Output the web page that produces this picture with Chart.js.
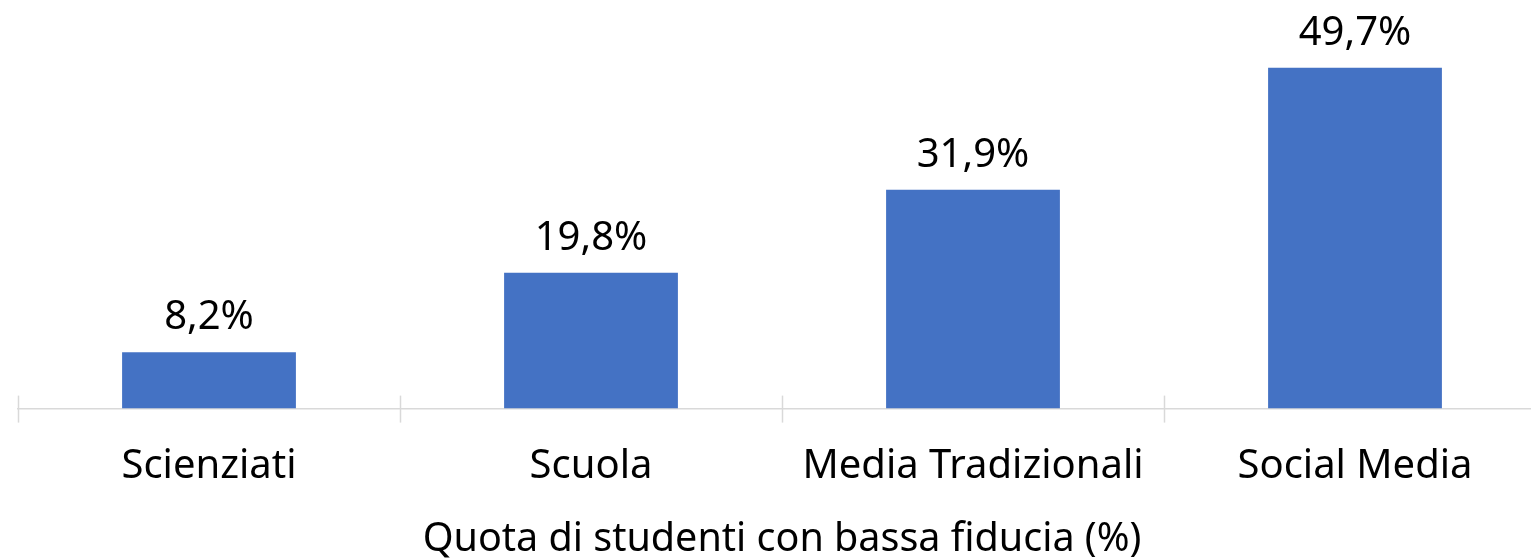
<!DOCTYPE html>
<html>
<head>
<meta charset="utf-8">
<script src="https://cdn.jsdelivr.net/npm/chart.js@4"></script>
<style>
  html, body { margin:0; padding:0; background:#fff; overflow:hidden; }
  #wrap { width:1560px; height:559px; position:relative; }
</style>
</head>
<body>
<div id="wrap"><canvas id="chart"></canvas></div>
<script>
const categories = ['Scienziati', 'Scuola', 'Media Tradizionali', 'Social Media'];
const lowTrust = [8.2, 19.8, 31.9, 49.7];
const axisTitle = 'Quota di studenti con bassa fiducia (%)';

const FONT = 'Noto Sans';

// value labels above the bars, Italian decimal comma
const barLabels = {
  id:'barLabels',
  afterDatasetsDraw(chart){
    const ctx = chart.ctx;
    const meta = chart.getDatasetMeta(0);
    ctx.save();
    ctx.font = `40px "${FONT}"`;
    ctx.fillStyle = '#000';
    ctx.textAlign = 'center';
    ctx.textBaseline = 'alphabetic';
    meta.data.forEach((bar, i) => {
      const txt = lowTrust[i].toFixed(1).replace('.', ',') + '%';
      ctx.fillText(txt, bar.x, bar.y - 23);
    });
    ctx.restore();
  }
};

// category separators crossing the axis line
const sepTicks = {
  id:'sepTicks',
  afterDraw(chart){
    const x = chart.scales.x;
    const y0 = chart.chartArea.bottom;
    const ctx = chart.ctx;
    const half = (x.getPixelForValue(1) - x.getPixelForValue(0)) / 2;
    ctx.save();
    ctx.strokeStyle = '#d9d9d9';
    ctx.lineWidth = 1.5;
    for (let i = 0; i <= categories.length; i++) {
      const px = Math.round(x.getPixelForValue(i) - half) + 0.5;
      ctx.beginPath();
      ctx.moveTo(px, y0 - 13);
      ctx.lineTo(px, y0 + 14);
      ctx.stroke();
    }
    ctx.restore();
  }
};

new Chart(document.getElementById('chart'), {
  type:'bar',
  data:{
    labels: categories,
    datasets:[{ data: lowTrust, backgroundColor:'#4472C4', borderWidth:0, categoryPercentage:1, barPercentage:0.455 }]
  },
  options:{
    responsive:true, maintainAspectRatio:false, animation:false,
    layout:{ padding:{ top:4, left:18, right:14, bottom:0 } },
    plugins:{ legend:{ display:false }, tooltip:{ enabled:false } },
    scales:{
      y:{ display:false, min:0, max:59 },
      x:{
        grid:{ display:false, drawTicks:false },
        border:{ display:true, color:'#d9d9d9', width:1.5 },
        ticks:{ color:'#000', padding:34, font:{ family:FONT, size:40 } },
        title:{ display:true, text:axisTitle, color:'#000', padding:{ top:-9, bottom:-4 }, font:{ family:FONT, size:39.5 } }
      }
    }
  },
  plugins:[barLabels, sepTicks]
});
</script>
</body>
</html>
